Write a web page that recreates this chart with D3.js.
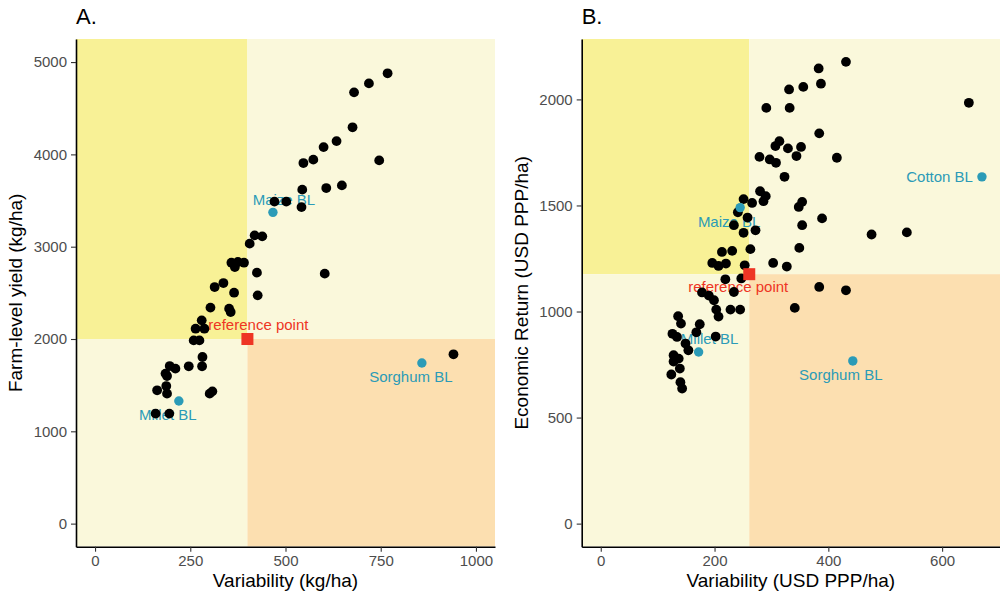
<!DOCTYPE html>
<html>
<head>
<meta charset="utf-8">
<script src="https://cdn.jsdelivr.net/npm/d3@7"></script>
<style>
    body { margin: 0; background: #ffffff; }
    text { font-family: "Liberation Sans", Arial, Helvetica, sans-serif; }
</style>
</head>
<body>
<div id="chart"></div>
<script>
// Panel A: yield vs variability (kg/ha), one [variability, yield] pair per farm
let a_farms = [
    [768, 4878], [719, 4769], [680, 4672], [676, 4293], [634, 4144], [600, 4079],
    [573, 3943], [547, 3906], [746, 3935], [544, 3618], [607, 3635], [648, 3664],
    [471, 3488], [502, 3488], [542, 3429], [419, 3123], [439, 3112], [406, 3033],
    [358, 2827], [375, 2834], [391, 2827], [367, 2779], [425, 2719], [603, 2708],
    [314, 2563], [337, 2606], [365, 2502], [427, 2473], [303, 2340], [352, 2329],
    [356, 2292], [280, 2202], [264, 2112], [287, 2112], [259, 1985], [274, 1985],
    [282, 1805], [246, 1704], [281, 1704], [196, 1707], [211, 1679], [185, 1625],
    [189, 1599], [163, 1444], [187, 1490], [189, 1408], [301, 1408], [308, 1433],
    [159, 1192], [195, 1192], [941, 1834]
];
let a_bl_names = ["Maize BL", "Millet BL", "Sorghum BL"];
let a_bl_values = [[467, 3372], [220, 1328], [858, 1740]];
let a_reference = [400, 2000];
let a_xlim = [0, 1000];
let a_ylim = [0, 5000];
let a_xticks = [0, 250, 500, 750, 1000];
let a_yticks = [0, 1000, 2000, 3000, 4000, 5000];

// Panel B: economic return vs variability (USD PPP/ha)
let b_farms = [
    [431, 2177], [383, 2146], [387, 2074], [331, 2047], [356, 2059], [647, 1984],
    [291, 1960], [332, 1960], [384, 1840], [314, 1803], [307, 1780], [329, 1769],
    [352, 1776], [279, 1729], [297, 1717], [308, 1701], [344, 1733], [415, 1725],
    [323, 1635], [280, 1567], [290, 1544], [286, 1520], [251, 1530], [266, 1512],
    [354, 1517], [348, 1493], [241, 1468], [258, 1443], [389, 1439], [354, 1407],
    [234, 1407], [272, 1383], [251, 1371], [476, 1363], [538, 1373], [349, 1300],
    [263, 1294], [213, 1281], [231, 1286], [196, 1229], [207, 1215], [220, 1226],
    [253, 1218], [303, 1229], [327, 1212], [219, 1152], [247, 1156], [384, 1116],
    [431, 1100], [178, 1090], [190, 1075], [234, 1092], [199, 1053], [203, 1009],
    [207, 976], [228, 1009], [245, 1009], [341, 1017], [136, 978], [141, 943],
    [174, 940], [126, 895], [134, 880], [168, 902], [202, 882], [149, 849],
    [154, 817], [128, 794], [137, 778], [128, 764], [139, 731], [124, 703],
    [140, 667], [143, 637]
];
let b_bl_names = ["Maize BL", "Cotton BL", "Millet BL", "Sorghum BL"];
let b_bl_values = [[245, 1490], [670, 1635], [172, 809], [443, 767]];
let b_reference = [261, 1176];
let b_xlim = [0, 670];
let b_ylim = [0, 2176];
let b_xticks = [0, 200, 400, 600];
let b_yticks = [0, 500, 1000, 1500, 2000];

// colours
const hi_yellow = "#f8f196";
const lo_yellow = "#faf8db";
const peach = "#fcdfb0";
const bl_blue = "#2b9bb7";
const ref_red = "#ee3524";

let svg = d3.select("#chart")
    .append("svg")
    .attr("width", 1000)
    .attr("height", 596);

// grow limits by 5% each side, like ggplot does
function expand(lim) {
    let pad = (lim[1] - lim[0]) * 0.05;
    return [lim[0] - pad, lim[1] + pad];
}

function drawPanel(p) {
    let x = d3.scaleLinear().domain(expand(p.xlim)).range([p.left, p.right]);
    let y = d3.scaleLinear().domain(expand(p.ylim)).range([p.bottom, p.top]);

    let clipId = "clip" + p.tag;
    svg.append("clipPath")
        .attr("id", clipId)
        .append("rect")
        .attr("x", p.left)
        .attr("y", p.top)
        .attr("width", p.right - p.left)
        .attr("height", p.bottom - p.top);

    let g = svg.append("g").attr("clip-path", `url(#${clipId})`);

    // quadrant backgrounds split at the reference point
    let rx = x(p.ref[0]), ry = y(p.ref[1]);
    let quads = [
        [p.left, p.top, rx, ry, hi_yellow],
        [rx, p.top, p.right, ry, lo_yellow],
        [p.left, ry, rx, p.bottom, lo_yellow],
        [rx, ry, p.right, p.bottom, peach]
    ];
    g.selectAll("rect.quad")
        .data(quads)
        .enter()
        .append("rect")
        .attr("class", "quad")
        .attr("x", function (d) { return d[0]; })
        .attr("y", function (d) { return d[1]; })
        .attr("width", function (d) { return d[2] - d[0]; })
        .attr("height", function (d) { return d[3] - d[1]; })
        .style("fill", function (d) { return d[4]; });

    // labels go under the points (offsets in px, like repelled text)
    g.selectAll("text.bl")
        .data(p.bl)
        .enter()
        .append("text")
        .attr("class", "bl")
        .attr("x", function (d, i) { return x(d[0]) + p.blOffsets[i][0]; })
        .attr("y", function (d, i) { return y(d[1]) + p.blOffsets[i][1]; })
        .attr("dy", "0.35em")
        .attr("text-anchor", function (d, i) { return p.blOffsets[i][2]; })
        .style("font-size", "15px")
        .style("fill", bl_blue)
        .text(function (d, i) { return p.blNames[i]; });

    g.append("text")
        .attr("x", rx + p.refOffset[0])
        .attr("y", ry + p.refOffset[1])
        .attr("dy", "0.35em")
        .attr("text-anchor", "middle")
        .style("font-size", "15px")
        .style("fill", ref_red)
        .text("reference point");

    // farm points
    g.selectAll("circle.farm")
        .data(p.farms)
        .enter()
        .append("circle")
        .attr("class", "farm")
        .attr("cx", function (d) { return x(d[0]); })
        .attr("cy", function (d) { return y(d[1]); })
        .attr("r", 4.9)
        .style("fill", "#000000");

    // baseline points
    g.selectAll("circle.bl")
        .data(p.bl)
        .enter()
        .append("circle")
        .attr("class", "bl")
        .attr("cx", function (d) { return x(d[0]); })
        .attr("cy", function (d) { return y(d[1]); })
        .attr("r", 4.7)
        .style("fill", bl_blue);

    // reference square
    g.append("rect")
        .attr("x", rx - 6)
        .attr("y", ry - 6)
        .attr("width", 12)
        .attr("height", 12)
        .style("fill", ref_red);

    // axes (plain numbers, no thousands separator)
    let fmt = d3.format("d");
    let xAxis = svg.append("g")
        .attr("transform", `translate(0, ${p.bottom})`)
        .call(d3.axisBottom(x).tickValues(p.xticks).tickFormat(fmt).tickSize(5).tickSizeOuter(0).tickPadding(4));
    let yAxis = svg.append("g")
        .attr("transform", `translate(${p.left}, 0)`)
        .call(d3.axisLeft(y).tickValues(p.yticks).tickFormat(fmt).tickSize(5).tickSizeOuter(0).tickPadding(4));
    [xAxis, yAxis].forEach(function (ax) {
        ax.select(".domain").style("stroke", "#000000").style("stroke-width", 1.6);
        ax.selectAll(".tick line").style("stroke", "#333333").style("stroke-width", 1.1);
        ax.selectAll(".tick text")
            .style("font-size", "15px")
            .style("fill", "#4d4d4d")
            .style("font-family", "\"Liberation Sans\", Arial, sans-serif");
    });

    // titles
    svg.append("text")
        .attr("x", p.left)
        .attr("y", 24)
        .style("font-size", "22px")
        .style("fill", "#000000")
        .text(p.tag + ".");

    svg.append("text")
        .attr("x", (p.left + Math.min(p.right, 1000)) / 2)
        .attr("y", 587)
        .attr("text-anchor", "middle")
        .style("font-size", "19px")
        .style("fill", "#000000")
        .text(p.xTitle);

    svg.append("text")
        .attr("transform", `translate(${p.left - 54}, ${(p.top + p.bottom) / 2}) rotate(-90)`)
        .attr("text-anchor", "middle")
        .style("font-size", "19px")
        .style("fill", "#000000")
        .text(p.yTitle);
}

drawPanel({
    tag: "A",
    left: 76, right: 495, top: 39, bottom: 546.7,
    xlim: a_xlim, ylim: a_ylim, xticks: a_xticks, yticks: a_yticks,
    farms: a_farms, bl: a_bl_values, blNames: a_bl_names, ref: a_reference,
    blOffsets: [[11, -13, "middle"], [-11, 14, "middle"], [-11, 14, "middle"]],
    refOffset: [11, -14],
    xTitle: "Variability (kg/ha)",
    yTitle: "Farm-level yield (kg/ha)"
});

drawPanel({
    tag: "B",
    left: 581.7, right: 1001, top: 39, bottom: 546.7,
    xlim: b_xlim, ylim: b_ylim, xticks: b_xticks, yticks: b_yticks,
    farms: b_farms, bl: b_bl_values, blNames: b_bl_names, ref: b_reference,
    blOffsets: [[-11, 14, "middle"], [-9, 0, "end"], [11, -13, "middle"], [-12, 14, "middle"]],
    refOffset: [-11, 13],
    xTitle: "Variability (USD PPP/ha)",
    yTitle: "Economic Return (USD PPP/ha)"
});
</script>
</body>
</html>
